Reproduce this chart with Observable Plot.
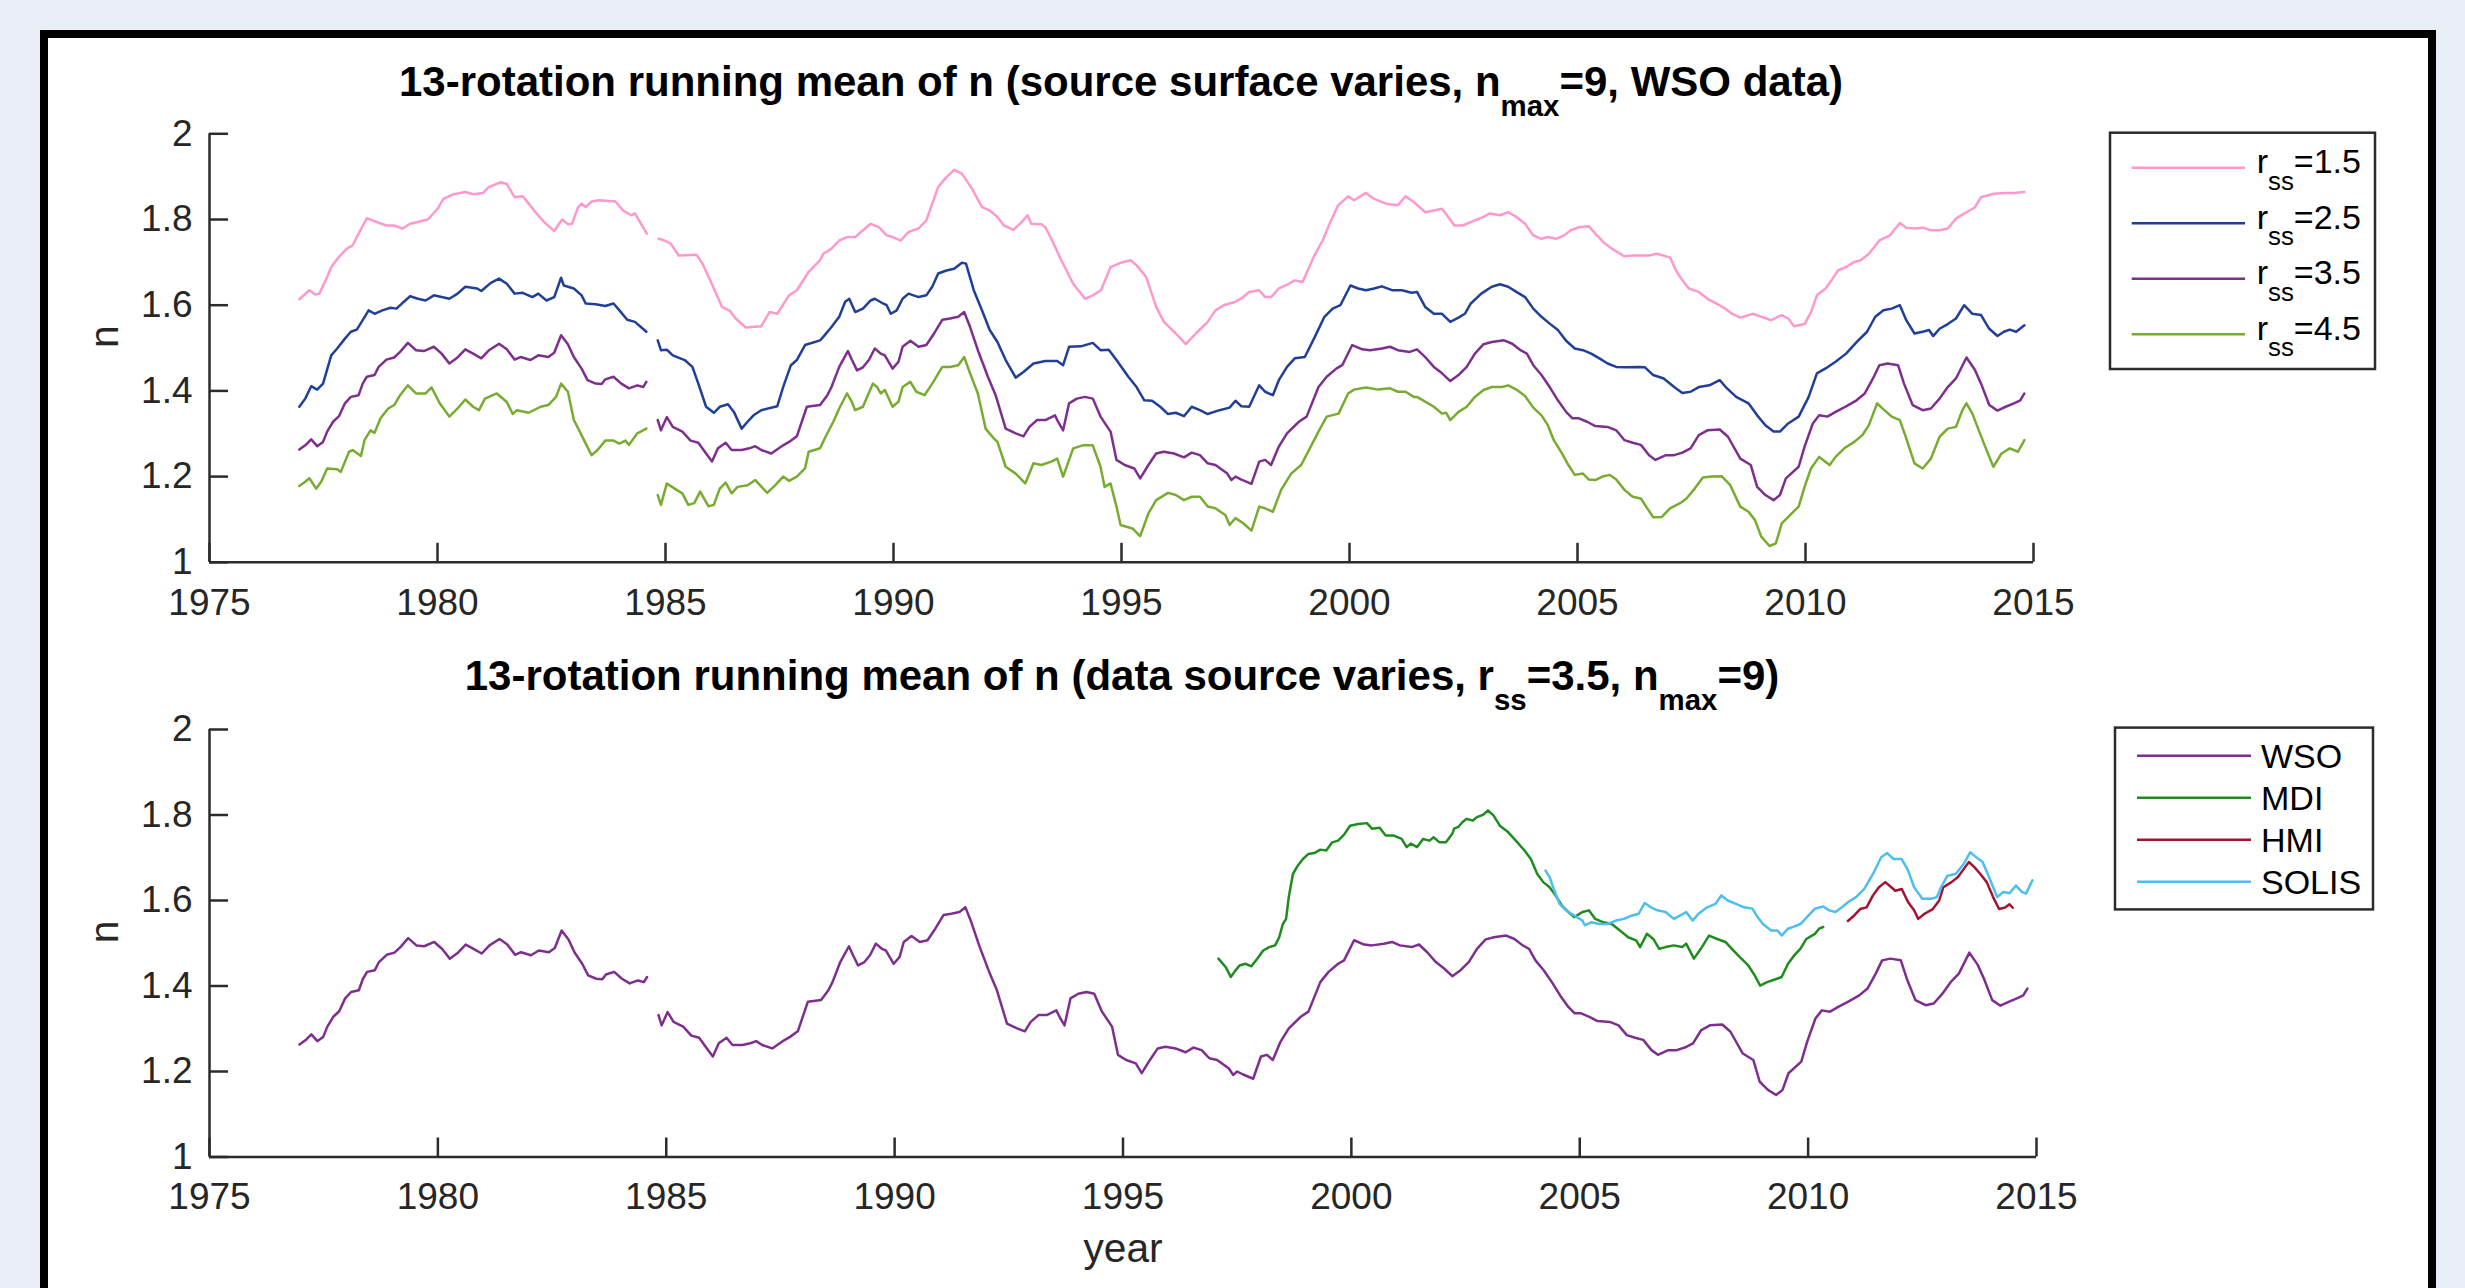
<!DOCTYPE html>
<html><head><meta charset="utf-8">
<script src="https://cdn.jsdelivr.net/npm/d3@7"></script>
<script src="https://cdn.jsdelivr.net/npm/@observablehq/plot@0.6"></script>
<style>
html,body{margin:0;padding:0;background:#e9eef7;width:2465px;height:1288px;overflow:hidden;}
#frame{position:absolute;left:40px;top:30px;width:2396px;height:1320px;box-sizing:border-box;border:8px solid #000;background:#fff;}
#top,#bottom{position:absolute;left:48px;}
#top{top:38px;} #bottom{top:640px;}
</style></head><body>
<div id="frame"></div><div id="top"></div><div id="bottom"></div>
<script>
const FONT = "'Liberation Sans', Arial, Helvetica, sans-serif";
const AXIS = "#2b2b2b";

// ---- ticks ----
const xTicks = [1975, 1980, 1985, 1990, 1995, 2000, 2005, 2010, 2015];
const yTicks = [1, 1.2, 1.4, 1.6, 1.8, 2];

// ---- titles ----
const title1 = ["13-rotation running mean of n (source surface varies, n", {sub: "max"}, "=9, WSO data)"];
const title2 = ["13-rotation running mean of n (data source varies, r", {sub: "ss"}, "=3.5, n", {sub: "max"}, "=9)"];
const yLabel = "n";
const xLabel = "year";

// ---- series: source surface radius (top panel) ----
const rssValues = ["1.5", "2.5", "3.5", "4.5"];
const rssColors = ["#ff99cc", "#213f97", "#7e2f8e", "#77ac30"];

const rss15 = [[1976.97,1.614],[1977.19,1.635],[1977.32,1.625],[1977.41,1.627],[1977.58,1.666],[1977.67,1.689],[1977.84,1.713],[1978.01,1.732],[1978.14,1.740],[1978.27,1.767],[1978.45,1.803],[1978.62,1.796],[1978.88,1.786],[1979.05,1.786],[1979.23,1.779],[1979.40,1.790],[1979.79,1.800],[1980.00,1.825],[1980.13,1.848],[1980.35,1.859],[1980.61,1.864],[1980.78,1.859],[1981.00,1.862],[1981.13,1.876],[1981.39,1.887],[1981.52,1.883],[1981.69,1.852],[1981.87,1.854],[1982.00,1.837],[1982.17,1.814],[1982.34,1.794],[1982.56,1.773],[1982.73,1.800],[1982.86,1.789],[1982.95,1.790],[1983.08,1.828],[1983.16,1.837],[1983.25,1.829],[1983.38,1.842],[1983.55,1.845],[1983.90,1.842],[1984.07,1.821],[1984.25,1.810],[1984.33,1.814],[1984.59,1.767],[1984.7,NaN],[1984.85,1.755],[1984.98,1.751],[1985.11,1.744],[1985.29,1.716],[1985.68,1.718],[1985.81,1.697],[1985.98,1.658],[1986.24,1.596],[1986.41,1.587],[1986.54,1.569],[1986.76,1.548],[1987.10,1.551],[1987.28,1.584],[1987.45,1.580],[1987.71,1.623],[1987.88,1.635],[1988.14,1.678],[1988.39,1.705],[1988.46,1.720],[1988.64,1.732],[1988.81,1.751],[1988.98,1.759],[1989.16,1.759],[1989.33,1.775],[1989.50,1.790],[1989.68,1.782],[1989.85,1.763],[1989.98,1.759],[1990.16,1.751],[1990.33,1.771],[1990.55,1.779],[1990.72,1.798],[1990.85,1.837],[1990.98,1.876],[1991.16,1.899],[1991.33,1.916],[1991.50,1.907],[1991.72,1.872],[1991.94,1.829],[1992.11,1.821],[1992.28,1.806],[1992.42,1.786],[1992.63,1.776],[1992.81,1.794],[1992.94,1.810],[1993.02,1.790],[1993.24,1.789],[1993.33,1.782],[1993.46,1.755],[1993.68,1.705],[1993.94,1.650],[1994.20,1.615],[1994.37,1.623],[1994.55,1.635],[1994.76,1.689],[1994.98,1.699],[1995.20,1.705],[1995.33,1.693],[1995.54,1.666],[1995.76,1.596],[1995.93,1.561],[1996.19,1.534],[1996.41,1.509],[1996.63,1.534],[1996.89,1.561],[1997.06,1.588],[1997.24,1.600],[1997.50,1.608],[1997.67,1.619],[1997.80,1.631],[1998.02,1.635],[1998.15,1.619],[1998.28,1.619],[1998.45,1.639],[1998.67,1.650],[1998.80,1.658],[1998.97,1.654],[1999.23,1.716],[1999.41,1.751],[1999.58,1.794],[1999.75,1.833],[1999.97,1.854],[2000.10,1.845],[2000.36,1.862],[2000.54,1.848],[2000.80,1.837],[2001.06,1.833],[2001.23,1.854],[2001.41,1.841],[2001.66,1.817],[2001.85,1.821],[2002.03,1.825],[2002.30,1.786],[2002.48,1.786],[2002.75,1.798],[2002.94,1.806],[2003.07,1.814],[2003.30,1.810],[2003.48,1.817],[2003.66,1.806],[2003.85,1.790],[2004.03,1.763],[2004.21,1.755],[2004.35,1.759],[2004.53,1.755],[2004.71,1.763],[2004.85,1.775],[2005.03,1.782],[2005.25,1.784],[2005.39,1.767],[2005.57,1.747],[2005.75,1.732],[2006.03,1.714],[2006.21,1.716],[2006.57,1.716],[2006.75,1.720],[2007.03,1.711],[2007.16,1.681],[2007.30,1.658],[2007.44,1.639],[2007.66,1.631],[2007.85,1.615],[2008.03,1.605],[2008.21,1.594],[2008.39,1.580],[2008.57,1.571],[2008.85,1.580],[2009.03,1.573],[2009.25,1.565],[2009.48,1.577],[2009.62,1.569],[2009.75,1.551],[2009.98,1.556],[2010.12,1.584],[2010.25,1.623],[2010.44,1.639],[2010.57,1.658],[2010.71,1.681],[2010.89,1.689],[2011.07,1.701],[2011.21,1.705],[2011.39,1.720],[2011.62,1.751],[2011.85,1.763],[2011.94,1.775],[2012.07,1.792],[2012.21,1.781],[2012.39,1.779],[2012.57,1.781],[2012.75,1.775],[2012.94,1.775],[2013.12,1.779],[2013.30,1.802],[2013.48,1.814],[2013.71,1.828],[2013.85,1.852],[2014.12,1.860],[2014.39,1.862],[2014.57,1.862],[2014.80,1.864]];

const rss25 = [[1976.97,1.363],[1977.10,1.382],[1977.23,1.411],[1977.36,1.403],[1977.49,1.417],[1977.67,1.483],[1977.80,1.499],[1977.97,1.522],[1978.10,1.538],[1978.23,1.543],[1978.36,1.565],[1978.49,1.588],[1978.62,1.580],[1978.79,1.588],[1978.97,1.594],[1979.10,1.592],[1979.23,1.605],[1979.40,1.621],[1979.57,1.615],[1979.74,1.611],[1979.92,1.623],[1980.09,1.619],[1980.26,1.615],[1980.44,1.627],[1980.61,1.643],[1980.87,1.639],[1980.96,1.633],[1981.17,1.652],[1981.35,1.662],[1981.52,1.650],[1981.69,1.627],[1981.87,1.629],[1982.08,1.619],[1982.21,1.627],[1982.39,1.611],[1982.56,1.619],[1982.71,1.664],[1982.77,1.646],[1982.99,1.639],[1983.16,1.623],[1983.25,1.604],[1983.47,1.602],[1983.68,1.598],[1983.86,1.604],[1983.99,1.588],[1984.16,1.566],[1984.33,1.561],[1984.46,1.549],[1984.58,1.538],[1984.7,NaN],[1984.83,1.518],[1984.90,1.495],[1985.03,1.496],[1985.16,1.483],[1985.42,1.472],[1985.59,1.456],[1985.72,1.417],[1985.89,1.363],[1986.06,1.349],[1986.19,1.363],[1986.37,1.369],[1986.50,1.351],[1986.67,1.312],[1986.80,1.328],[1986.93,1.343],[1987.10,1.355],[1987.45,1.364],[1987.58,1.409],[1987.75,1.460],[1987.88,1.472],[1988.06,1.507],[1988.39,1.518],[1988.46,1.526],[1988.64,1.549],[1988.81,1.573],[1988.94,1.608],[1989.03,1.615],[1989.16,1.584],[1989.33,1.592],[1989.50,1.611],[1989.59,1.615],[1989.77,1.604],[1989.85,1.600],[1989.94,1.580],[1990.07,1.588],[1990.20,1.615],[1990.33,1.627],[1990.55,1.619],[1990.72,1.623],[1990.85,1.643],[1990.98,1.674],[1991.16,1.681],[1991.33,1.685],[1991.50,1.699],[1991.59,1.697],[1991.76,1.635],[1991.94,1.588],[1992.11,1.542],[1992.28,1.514],[1992.46,1.472],[1992.68,1.431],[1992.85,1.444],[1993.07,1.464],[1993.33,1.470],[1993.59,1.470],[1993.72,1.460],[1993.85,1.503],[1994.11,1.504],[1994.37,1.512],[1994.54,1.495],[1994.72,1.496],[1994.89,1.472],[1995.15,1.433],[1995.33,1.409],[1995.50,1.378],[1995.67,1.377],[1995.85,1.363],[1996.02,1.346],[1996.19,1.349],[1996.37,1.341],[1996.54,1.363],[1996.72,1.355],[1996.89,1.346],[1997.15,1.355],[1997.37,1.361],[1997.50,1.377],[1997.63,1.364],[1997.80,1.363],[1998.02,1.413],[1998.15,1.398],[1998.32,1.390],[1998.45,1.425],[1998.63,1.456],[1998.80,1.476],[1999.02,1.479],[1999.24,1.526],[1999.45,1.573],[1999.63,1.592],[1999.80,1.600],[2000.02,1.646],[2000.19,1.639],[2000.36,1.635],[2000.54,1.639],[2000.71,1.644],[2000.93,1.635],[2001.15,1.635],[2001.36,1.629],[2001.48,1.631],[2001.66,1.596],[2001.85,1.580],[2002.03,1.580],[2002.21,1.561],[2002.39,1.571],[2002.53,1.580],[2002.66,1.604],[2002.89,1.627],[2003.12,1.643],[2003.30,1.649],[2003.48,1.643],[2003.66,1.631],[2003.85,1.619],[2004.03,1.592],[2004.21,1.573],[2004.39,1.557],[2004.57,1.542],[2004.75,1.517],[2004.94,1.499],[2005.12,1.495],[2005.30,1.487],[2005.48,1.476],[2005.66,1.464],[2005.85,1.456],[2006.07,1.455],[2006.35,1.456],[2006.48,1.455],[2006.66,1.437],[2006.89,1.429],[2007.12,1.409],[2007.30,1.395],[2007.48,1.398],[2007.66,1.409],[2007.89,1.413],[2008.12,1.425],[2008.25,1.409],[2008.48,1.386],[2008.75,1.371],[2008.94,1.343],[2009.12,1.320],[2009.30,1.305],[2009.44,1.305],[2009.62,1.324],[2009.85,1.340],[2010.07,1.386],[2010.25,1.441],[2010.48,1.455],[2010.66,1.468],[2010.89,1.487],[2011.12,1.514],[2011.35,1.538],[2011.53,1.573],[2011.71,1.588],[2011.89,1.592],[2012.07,1.600],[2012.21,1.565],[2012.39,1.534],[2012.57,1.538],[2012.71,1.542],[2012.80,1.528],[2012.94,1.545],[2013.12,1.556],[2013.30,1.569],[2013.48,1.600],[2013.66,1.580],[2013.85,1.577],[2014.03,1.545],[2014.21,1.528],[2014.35,1.538],[2014.48,1.543],[2014.62,1.538],[2014.80,1.553]];

const rss35 = [[1976.97,1.263],[1977.10,1.273],[1977.23,1.287],[1977.36,1.271],[1977.49,1.281],[1977.58,1.305],[1977.71,1.328],[1977.84,1.341],[1977.97,1.371],[1978.10,1.386],[1978.27,1.390],[1978.36,1.417],[1978.45,1.433],[1978.62,1.437],[1978.71,1.456],[1978.88,1.473],[1979.05,1.478],[1979.18,1.491],[1979.35,1.512],[1979.53,1.495],[1979.70,1.493],[1979.92,1.503],[1980.09,1.487],[1980.26,1.464],[1980.44,1.478],[1980.61,1.497],[1980.78,1.487],[1980.96,1.476],[1981.13,1.495],[1981.35,1.510],[1981.52,1.497],[1981.69,1.473],[1981.82,1.479],[1982.04,1.472],[1982.21,1.483],[1982.43,1.479],[1982.56,1.489],[1982.71,1.530],[1982.86,1.509],[1982.99,1.479],[1983.16,1.452],[1983.29,1.425],[1983.47,1.417],[1983.60,1.416],[1983.68,1.427],[1983.86,1.433],[1984.03,1.417],[1984.20,1.406],[1984.38,1.413],[1984.51,1.409],[1984.58,1.421],[1984.7,NaN],[1984.83,1.332],[1984.90,1.308],[1985.03,1.339],[1985.16,1.316],[1985.37,1.305],[1985.55,1.284],[1985.72,1.279],[1985.89,1.254],[1986.02,1.235],[1986.15,1.266],[1986.32,1.279],[1986.45,1.262],[1986.67,1.262],[1986.84,1.266],[1986.97,1.271],[1987.10,1.262],[1987.32,1.254],[1987.58,1.273],[1987.71,1.281],[1987.88,1.294],[1988.10,1.363],[1988.39,1.367],[1988.55,1.390],[1988.64,1.409],[1988.81,1.456],[1989.00,1.493],[1989.09,1.472],[1989.20,1.448],[1989.33,1.455],[1989.46,1.472],[1989.59,1.499],[1989.72,1.487],[1989.81,1.483],[1989.98,1.452],[1990.11,1.468],[1990.20,1.503],[1990.37,1.517],[1990.55,1.503],[1990.72,1.507],[1990.89,1.534],[1991.07,1.566],[1991.24,1.569],[1991.42,1.573],[1991.55,1.584],[1991.68,1.549],[1991.85,1.495],[1992.07,1.433],[1992.24,1.390],[1992.46,1.312],[1992.68,1.301],[1992.85,1.294],[1992.98,1.316],[1993.15,1.332],[1993.33,1.332],[1993.54,1.343],[1993.63,1.324],[1993.72,1.308],[1993.85,1.371],[1994.02,1.382],[1994.20,1.386],[1994.37,1.382],[1994.54,1.340],[1994.76,1.305],[1994.89,1.239],[1995.07,1.227],[1995.28,1.219],[1995.41,1.196],[1995.59,1.227],[1995.76,1.254],[1995.93,1.258],[1996.15,1.254],[1996.37,1.245],[1996.54,1.256],[1996.72,1.250],[1996.89,1.231],[1997.06,1.227],[1997.32,1.207],[1997.41,1.192],[1997.50,1.200],[1997.63,1.193],[1997.85,1.183],[1998.02,1.235],[1998.15,1.239],[1998.28,1.227],[1998.45,1.270],[1998.63,1.301],[1998.89,1.328],[1999.06,1.340],[1999.32,1.409],[1999.50,1.433],[1999.71,1.452],[1999.84,1.460],[2000.06,1.507],[2000.28,1.497],[2000.45,1.495],[2000.71,1.499],[2000.89,1.503],[2001.06,1.495],[2001.32,1.491],[2001.48,1.497],[2001.66,1.479],[2001.85,1.456],[2002.03,1.441],[2002.21,1.423],[2002.39,1.437],[2002.57,1.456],[2002.75,1.487],[2002.94,1.509],[2003.12,1.514],[2003.39,1.518],[2003.57,1.510],[2003.75,1.495],[2003.89,1.487],[2004.03,1.460],[2004.21,1.437],[2004.39,1.409],[2004.57,1.378],[2004.75,1.351],[2004.89,1.336],[2005.03,1.336],[2005.21,1.328],[2005.39,1.318],[2005.66,1.316],[2005.85,1.308],[2006.03,1.285],[2006.21,1.279],[2006.39,1.274],[2006.57,1.250],[2006.71,1.239],[2006.94,1.250],[2007.12,1.250],[2007.30,1.256],[2007.48,1.266],[2007.66,1.297],[2007.85,1.308],[2008.12,1.310],[2008.30,1.293],[2008.57,1.242],[2008.80,1.227],[2008.94,1.176],[2009.12,1.157],[2009.30,1.145],[2009.44,1.157],[2009.57,1.196],[2009.85,1.223],[2009.98,1.270],[2010.16,1.324],[2010.30,1.343],[2010.48,1.340],[2010.66,1.351],[2010.89,1.364],[2011.12,1.378],[2011.30,1.394],[2011.48,1.429],[2011.62,1.460],[2011.80,1.464],[2012.03,1.460],[2012.16,1.417],[2012.35,1.367],[2012.57,1.355],[2012.75,1.359],[2012.94,1.382],[2013.12,1.409],[2013.30,1.429],[2013.53,1.478],[2013.71,1.450],[2013.85,1.417],[2014.03,1.367],[2014.21,1.354],[2014.39,1.363],[2014.57,1.371],[2014.71,1.378],[2014.80,1.394]];

const rss45 = [[1976.97,1.178],[1977.10,1.188],[1977.19,1.196],[1977.34,1.172],[1977.45,1.188],[1977.58,1.219],[1977.80,1.217],[1977.88,1.211],[1978.06,1.258],[1978.14,1.262],[1978.32,1.248],[1978.40,1.285],[1978.53,1.308],[1978.62,1.302],[1978.75,1.336],[1978.92,1.359],[1979.05,1.367],[1979.18,1.390],[1979.35,1.413],[1979.53,1.394],[1979.74,1.394],[1979.87,1.408],[1980.05,1.371],[1980.26,1.340],[1980.44,1.359],[1980.61,1.380],[1980.78,1.363],[1980.91,1.355],[1981.04,1.382],[1981.30,1.394],[1981.52,1.374],[1981.65,1.346],[1981.74,1.355],[1982.00,1.349],[1982.26,1.363],[1982.43,1.367],[1982.60,1.386],[1982.71,1.417],[1982.86,1.398],[1982.99,1.332],[1983.12,1.305],[1983.25,1.277],[1983.38,1.250],[1983.51,1.262],[1983.68,1.284],[1983.86,1.284],[1983.99,1.277],[1984.12,1.284],[1984.20,1.274],[1984.38,1.301],[1984.58,1.312],[1984.7,NaN],[1984.83,1.157],[1984.90,1.134],[1985.03,1.184],[1985.20,1.172],[1985.37,1.161],[1985.50,1.134],[1985.63,1.138],[1985.76,1.165],[1985.94,1.131],[1986.06,1.134],[1986.19,1.172],[1986.32,1.186],[1986.45,1.161],[1986.58,1.176],[1986.80,1.180],[1986.97,1.192],[1987.23,1.162],[1987.41,1.180],[1987.58,1.200],[1987.71,1.190],[1987.88,1.200],[1988.06,1.219],[1988.14,1.258],[1988.39,1.266],[1988.51,1.293],[1988.68,1.328],[1988.81,1.359],[1988.98,1.394],[1989.07,1.378],[1989.16,1.355],[1989.33,1.363],[1989.42,1.386],[1989.55,1.417],[1989.64,1.409],[1989.72,1.394],[1989.81,1.402],[1989.98,1.363],[1990.11,1.375],[1990.20,1.409],[1990.37,1.421],[1990.50,1.398],[1990.68,1.390],[1990.85,1.417],[1991.07,1.456],[1991.24,1.456],[1991.42,1.460],[1991.55,1.479],[1991.68,1.441],[1991.85,1.394],[1992.02,1.312],[1992.20,1.289],[1992.28,1.281],[1992.46,1.223],[1992.68,1.207],[1992.89,1.184],[1993.07,1.231],[1993.24,1.227],[1993.46,1.235],[1993.59,1.242],[1993.72,1.200],[1993.94,1.266],[1994.15,1.273],[1994.37,1.273],[1994.54,1.223],[1994.63,1.176],[1994.76,1.184],[1994.89,1.130],[1994.98,1.087],[1995.24,1.079],[1995.41,1.061],[1995.59,1.114],[1995.76,1.145],[1996.02,1.162],[1996.19,1.157],[1996.37,1.145],[1996.54,1.153],[1996.72,1.153],[1996.89,1.130],[1997.06,1.126],[1997.28,1.110],[1997.37,1.087],[1997.50,1.103],[1997.67,1.091],[1997.85,1.074],[1998.02,1.130],[1998.15,1.126],[1998.32,1.118],[1998.50,1.169],[1998.72,1.207],[1998.94,1.227],[1999.15,1.270],[1999.32,1.305],[1999.50,1.340],[1999.76,1.347],[1999.97,1.394],[2000.10,1.403],[2000.36,1.408],[2000.63,1.403],[2000.89,1.406],[2001.06,1.398],[2001.23,1.398],[2001.41,1.386],[2001.48,1.386],[2001.66,1.375],[2001.85,1.363],[2002.03,1.347],[2002.12,1.349],[2002.21,1.332],[2002.39,1.351],[2002.57,1.363],[2002.75,1.386],[2002.94,1.402],[2003.12,1.409],[2003.35,1.409],[2003.48,1.413],[2003.66,1.403],[2003.85,1.388],[2004.03,1.361],[2004.21,1.343],[2004.35,1.320],[2004.48,1.285],[2004.66,1.254],[2004.80,1.227],[2004.94,1.204],[2005.12,1.207],[2005.25,1.193],[2005.39,1.192],[2005.57,1.201],[2005.71,1.204],[2005.85,1.193],[2006.03,1.169],[2006.21,1.153],[2006.39,1.149],[2006.53,1.126],[2006.66,1.105],[2006.85,1.106],[2007.03,1.126],[2007.25,1.138],[2007.39,1.149],[2007.57,1.172],[2007.75,1.198],[2007.94,1.200],[2008.16,1.201],[2008.35,1.180],[2008.57,1.130],[2008.75,1.118],[2008.89,1.099],[2009.03,1.060],[2009.21,1.038],[2009.35,1.044],[2009.48,1.091],[2009.66,1.110],[2009.85,1.130],[2009.98,1.176],[2010.12,1.219],[2010.30,1.246],[2010.53,1.227],[2010.66,1.246],[2010.85,1.266],[2011.07,1.281],[2011.25,1.297],[2011.39,1.320],[2011.57,1.371],[2011.71,1.357],[2011.89,1.340],[2012.07,1.332],[2012.21,1.289],[2012.39,1.231],[2012.57,1.219],[2012.75,1.242],[2012.94,1.293],[2013.12,1.312],[2013.30,1.316],[2013.44,1.355],[2013.53,1.371],[2013.66,1.347],[2013.80,1.308],[2013.94,1.270],[2014.12,1.223],[2014.30,1.254],[2014.48,1.266],[2014.66,1.258],[2014.80,1.285]];

// ---- series: data source (bottom panel, r_ss = 3.5) ----
const sourceNames = ["WSO", "MDI", "HMI", "SOLIS"];
const sourceColors = ["#7e2f8e", "#1e8c1e", "#a2142f", "#4dbeee"];

const wso = rss35; // WSO at r_ss = 3.5 is the same series as the top panel

const mdi = [[1997.09,1.464],[1997.25,1.444],[1997.36,1.421],[1997.46,1.436],[1997.55,1.448],[1997.68,1.452],[1997.81,1.446],[1997.94,1.464],[1998.07,1.483],[1998.20,1.491],[1998.33,1.495],[1998.42,1.514],[1998.50,1.545],[1998.57,1.557],[1998.63,1.608],[1998.72,1.662],[1998.83,1.682],[1998.94,1.697],[1999.06,1.709],[1999.19,1.711],[1999.32,1.719],[1999.45,1.717],[1999.58,1.736],[1999.71,1.740],[1999.84,1.754],[1999.97,1.775],[2000.15,1.779],[2000.34,1.781],[2000.45,1.768],[2000.62,1.770],[2000.75,1.752],[2000.93,1.752],[2001.10,1.744],[2001.21,1.725],[2001.30,1.733],[2001.44,1.725],[2001.57,1.744],[2001.71,1.740],[2001.80,1.748],[2001.93,1.736],[2002.07,1.736],[2002.21,1.756],[2002.25,1.768],[2002.34,1.772],[2002.43,1.783],[2002.52,1.791],[2002.66,1.787],[2002.75,1.795],[2002.89,1.801],[2002.99,1.811],[2003.11,1.799],[2003.25,1.775],[2003.43,1.760],[2003.61,1.739],[2003.79,1.717],[2003.93,1.697],[2004.07,1.662],[2004.20,1.643],[2004.34,1.631],[2004.47,1.612],[2004.61,1.588],[2004.75,1.573],[2004.88,1.561],[2005.06,1.573],[2005.20,1.577],[2005.34,1.557],[2005.52,1.549],[2005.70,1.545],[2005.88,1.530],[2006.06,1.514],[2006.24,1.506],[2006.32,1.491],[2006.47,1.522],[2006.61,1.510],[2006.74,1.487],[2006.88,1.491],[2007.06,1.495],[2007.24,1.491],[2007.33,1.499],[2007.50,1.464],[2007.65,1.487],[2007.83,1.518],[2008.01,1.510],[2008.19,1.503],[2008.33,1.487],[2008.51,1.467],[2008.69,1.448],[2008.83,1.425],[2008.95,1.401],[2009.10,1.409],[2009.24,1.414],[2009.42,1.421],[2009.56,1.452],[2009.69,1.471],[2009.83,1.487],[2009.96,1.510],[2010.15,1.522],[2010.24,1.534],[2010.33,1.538]];

const hmi = [[2010.87,1.552],[2011.01,1.565],[2011.14,1.580],[2011.28,1.584],[2011.42,1.612],[2011.55,1.631],[2011.69,1.643],[2011.82,1.631],[2011.91,1.623],[2012.05,1.627],[2012.19,1.596],[2012.32,1.577],[2012.41,1.557],[2012.55,1.569],[2012.73,1.580],[2012.87,1.600],[2012.96,1.631],[2013.14,1.643],[2013.28,1.655],[2013.41,1.674],[2013.52,1.690],[2013.64,1.678],[2013.77,1.662],[2013.91,1.643],[2014.05,1.608],[2014.18,1.580],[2014.32,1.584],[2014.41,1.591],[2014.48,1.583]];

const solis = [[2004.25,1.670],[2004.34,1.655],[2004.43,1.627],[2004.56,1.592],[2004.70,1.577],[2004.88,1.565],[2005.06,1.553],[2005.11,1.542],[2005.25,1.549],[2005.43,1.545],[2005.61,1.545],[2005.79,1.553],[2005.97,1.557],[2006.15,1.565],[2006.29,1.569],[2006.42,1.594],[2006.56,1.584],[2006.70,1.577],[2006.88,1.573],[2007.06,1.557],[2007.20,1.565],[2007.33,1.573],[2007.47,1.553],[2007.60,1.569],[2007.79,1.584],[2007.97,1.592],[2008.10,1.612],[2008.24,1.600],[2008.42,1.592],[2008.60,1.584],[2008.78,1.581],[2008.87,1.565],[2009.01,1.545],[2009.19,1.530],[2009.33,1.530],[2009.42,1.518],[2009.56,1.534],[2009.69,1.539],[2009.83,1.545],[2010.01,1.565],[2010.15,1.581],[2010.33,1.586],[2010.46,1.577],[2010.60,1.573],[2010.74,1.584],[2010.87,1.596],[2011.05,1.608],[2011.23,1.627],[2011.42,1.662],[2011.60,1.701],[2011.73,1.711],[2011.87,1.697],[2012.05,1.697],[2012.19,1.670],[2012.32,1.631],[2012.50,1.604],[2012.69,1.604],[2012.82,1.608],[2012.91,1.631],[2013.05,1.658],[2013.23,1.662],[2013.41,1.686],[2013.55,1.713],[2013.68,1.701],[2013.82,1.690],[2013.96,1.655],[2014.14,1.608],[2014.27,1.620],[2014.41,1.617],[2014.55,1.635],[2014.68,1.620],[2014.77,1.616],[2014.91,1.647]];

// ---------- helpers ----------
function richText(g, x, y, parts, size, anchor, weight, subScale, subShift) {
  const t = g.append("text").attr("x", x).attr("y", y)
    .attr("text-anchor", anchor).attr("font-size", size)
    .attr("font-weight", weight).attr("fill", "#000").attr("font-family", FONT);
  let shifted = false;
  parts.forEach(p => {
    const ts = t.append("tspan");
    if (typeof p === "object") {
      ts.text(p.sub).attr("font-size", size * subScale).attr("dy", size * subShift);
      shifted = true;
    } else {
      ts.text(p);
      if (shifted) { ts.attr("dy", -size * subShift); shifted = false; }
    }
  });
}

function drawLegend(svg, cfg) {
  const g = d3.select(svg).append("g");
  g.append("rect").attr("x", cfg.x).attr("y", cfg.y).attr("width", cfg.w).attr("height", cfg.h)
    .attr("fill", "#fff").attr("stroke", "#2b2b2b").attr("stroke-width", 2.5);
  cfg.items.forEach((it, i) => {
    const cy = cfg.row0 + i * cfg.rowGap;
    g.append("line").attr("x1", cfg.lx1).attr("x2", cfg.lx2).attr("y1", cy).attr("y2", cy)
      .attr("stroke", it.color).attr("stroke-width", 2.6);
    richText(g, cfg.tx, cy + cfg.base, it.parts, cfg.fontSize, "start", "normal", 0.76, 0.48);
  });
}

function panel({series, colors, width, height, ml, mr, mt, mb}) {
  const plotW = width - ml - mr, plotH = height - mt - mb;
  const marks = [
    ...series.map((s, i) => Plot.line(s, {x: d => d[0], y: d => d[1], stroke: colors[i], strokeWidth: 2.5})),
    Plot.ruleX([1975], {stroke: AXIS, strokeWidth: 2.5}),
    Plot.ruleY([1], {stroke: AXIS, strokeWidth: 2.5}),
    Plot.tickX(xTicks, {x: d => d, stroke: AXIS, strokeWidth: 2.5, insetTop: plotH - 19}),
    Plot.tickY(yTicks, {y: d => d, stroke: AXIS, strokeWidth: 2.5, insetRight: plotW - 19}),
    Plot.axisX(xTicks, {tickSize: 0, tickPadding: 26, tickFormat: "d", fontSize: 37, fill: "#262626", label: null}),
    Plot.axisY(yTicks, {tickSize: 0, tickPadding: 17, tickFormat: d => String(d), fontSize: 37, fill: "#262626", label: null}),
    Plot.text([yLabel], {frameAnchor: "left", text: d => d, rotate: -90, dx: -105, fontSize: 40.7, fill: "#262626"})
  ];
  return {marks, plotW, plotH};
}

// ---------- top panel ----------
{
  const width = 2380, height = 600, ml = 161, mr = 395, mt = 95.3, mb = 76.2;
  const {marks} = panel({series: [rss15, rss25, rss35, rss45], colors: rssColors, width, height, ml, mr, mt, mb});
  const svg = Plot.plot({
    width, height, marginLeft: ml, marginRight: mr, marginTop: mt, marginBottom: mb,
    x: {domain: [1975, 2015]}, y: {domain: [1, 2]},
    style: {fontFamily: FONT, background: "transparent", overflow: "visible"},
    marks
  });
  document.getElementById("top").appendChild(svg);
  richText(d3.select(svg), 1073, 58, title1, 42, "middle", "bold", 0.7, 0.47);
  drawLegend(svg, {
    x: 2062, y: 94.7, w: 265, h: 236.3, lx1: 2083.7, lx2: 2197, tx: 2208.7,
    row0: 129.7, rowGap: 55.5, base: 5.5, fontSize: 34,
    items: rssValues.map((v, i) => ({color: rssColors[i], parts: ["r", {sub: "ss"}, "=" + v]}))
  });
}

// ---------- bottom panel ----------
{
  const width = 2380, height = 648, ml = 161, mr = 392, mt = 89, mb = 131.5;
  const {marks} = panel({series: [wso, mdi, hmi, solis], colors: sourceColors, width, height, ml, mr, mt, mb});
  marks.push(Plot.text([xLabel], {frameAnchor: "bottom", text: d => d, dy: 105, fontSize: 40.7, fill: "#262626"}));
  const svg = Plot.plot({
    width, height, marginLeft: ml, marginRight: mr, marginTop: mt, marginBottom: mb,
    x: {domain: [1975, 2015]}, y: {domain: [1, 2]},
    style: {fontFamily: FONT, background: "transparent", overflow: "visible"},
    marks
  });
  document.getElementById("bottom").appendChild(svg);
  richText(d3.select(svg), 1074, 50, title2, 42, "middle", "bold", 0.7, 0.47);
  drawLegend(svg, {
    x: 2067, y: 87.6, w: 258, h: 181.8, lx1: 2089, lx2: 2203, tx: 2213,
    row0: 115.7, rowGap: 42, base: 12, fontSize: 34,
    items: sourceNames.map((n, i) => ({color: sourceColors[i], parts: [n]}))
  });
}
</script>
</body></html>
